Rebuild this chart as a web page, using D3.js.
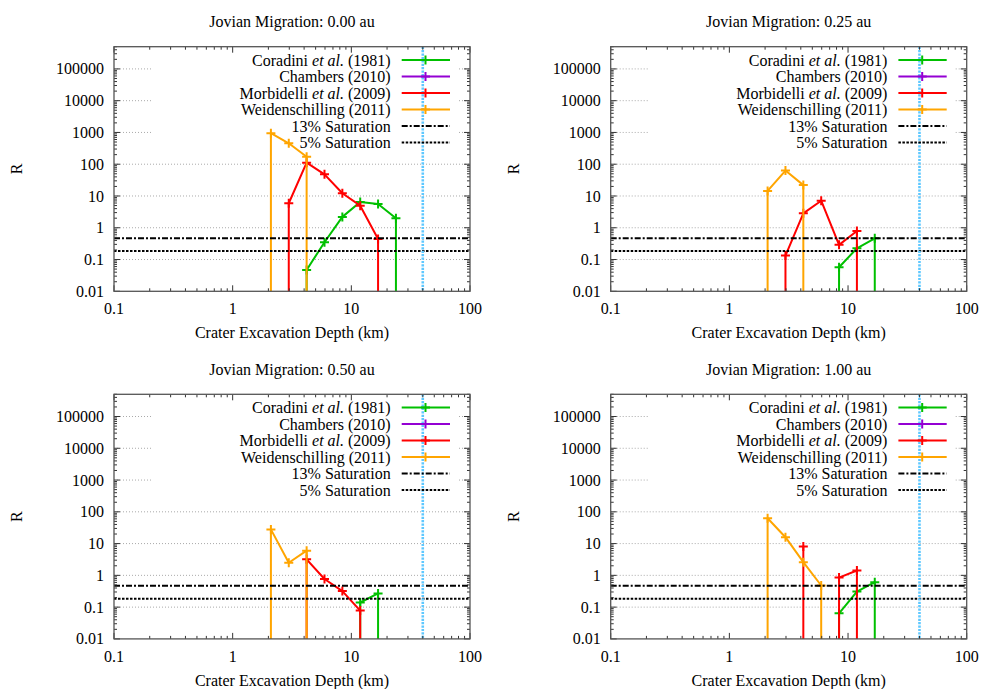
<!DOCTYPE html>
<html><head><meta charset="utf-8">
<script src="https://cdn.jsdelivr.net/npm/d3@7"></script>
<style>body{margin:0;background:#fff}</style>
</head><body>
<script>
// ---- data ----
const depthBins = [2.1, 2.97, 4.2, 5.94, 8.4, 11.88, 16.8, 23.76];
const migrations = ["0.00", "0.25", "0.50", "1.00"];
const seriesNames = ["Coradini", "Chambers", "Morbidelli", "Weidenschilling"];
const coradini = [
  [0, 0, 0.047, 0.35, 2.2, 6.5, 5.6, 2.0],
  [0, 0, 0, 0, 0.057, 0.226, 0.466, 0],
  [0, 0, 0, 0, 0, 0.14, 0.27, 0],
  [0, 0, 0, 0, 0.064, 0.31, 0.61, 0]
];
const chambers = [
  [0, 0, 0, 0, 0, 0, 0, 0],
  [0, 0, 0, 0, 0, 0, 0, 0],
  [0, 0, 0, 0, 0, 0, 0, 0],
  [0, 0, 0, 0, 0, 0, 0, 0]
];
const morbidelli = [
  [0, 5.9, 112, 48, 12.2, 4.95, 0.44, 0],
  [0, 0.133, 2.85, 7.1, 0.29, 0.79, 0, 0],
  [0, 0, 3.2, 0.77, 0.32, 0.078, 0, 0],
  [0, 0, 8.1, 0, 0.85, 1.42, 0, 0]
];
const weidenschilling = [
  [950, 455, 172, 0, 0, 0, 0, 0],
  [14.4, 63, 22, 0, 0, 0, 0, 0],
  [28, 2.5, 6.0, 0, 0, 0, 0, 0],
  [63, 15.9, 2.6, 0.48, 0, 0, 0, 0]
];
const saturation13 = 0.47;
const saturation5 = 0.185;
const limitDepth = 40;
const xTicks = [0.1, 1, 10, 100];
const yTicks = [0.01, 0.1, 1, 10, 100, 1000, 10000, 100000];
const xDomain = [0.1, 100];
const yDomain = [0.01, 500000];

// ---- styles ----
const FONT = "'Liberation Serif', 'DejaVu Serif', 'Times New Roman', serif";
const colors = {Coradini: "#00c000", Chambers: "#9400d3", Morbidelli: "#ff0000", Weidenschilling: "#ffa500"};
const seriesData = {Coradini: coradini, Chambers: chambers, Morbidelli: morbidelli, Weidenschilling: weidenschilling};
const legendLabels = [
  [["Coradini ", false], ["et al.", true], [" (1981)", false]],
  [["Chambers (2010)", false]],
  [["Morbidelli ", false], ["et al.", true], [" (2009)", false]],
  [["Weidenschilling (2011)", false]],
  [["13% Saturation", false]],
  [["5% Saturation", false]]
];

const W = 983, H = 689;
const svg = d3.select("body").append("svg").attr("width", W).attr("height", H)
  .attr("font-family", FONT).attr("font-size", 16);
const pw = 356, ph = 244.6;
const origins = [[114, 46.7], [610.7, 46.7], [114, 394.3], [610.7, 394.3]];

function txt(sel) { return sel.append("text").attr("font-family", FONT).attr("font-size", 16).attr("fill", "#000"); }

migrations.forEach((mig, pi) => {
  const [ox, oy] = origins[pi];
  const g = svg.append("g").attr("transform", `translate(${ox},${oy})`);
  const x = d3.scaleLog().domain(xDomain).range([0, pw]);
  const y = d3.scaleLog().domain(yDomain).range([ph, 0]).clamp(true);

  // grid
  g.selectAll(".grid").data(yTicks.slice(1)).enter().append("line")
    .attr("x1", 0).attr("x2", pw).attr("y1", d => y(d)).attr("y2", d => y(d))
    .attr("stroke", "#aaa").attr("stroke-width", 1).attr("stroke-dasharray", "1,2");

  // legend background
  g.append("rect").attr("x", 38).attr("y", 1).attr("width", 306).attr("height", 103).attr("fill", "#fff");

  // series
  const line = d3.line().x(d => x(d[0])).y(d => y(d[1]));
  seriesNames.forEach(name => {
    const vals = seriesData[name][pi];
    let runs = [], cur = null;
    vals.forEach((v, i) => {
      if (v > 0) { if (!cur) { cur = []; runs.push(cur); } cur.push([depthBins[i], v]); }
      else cur = null;
    });
    runs.forEach(run => {
      const pts = [[run[0][0], yDomain[0]], ...run, [run[run.length - 1][0], yDomain[0]]];
      g.append("path").attr("d", line(pts)).attr("fill", "none")
        .attr("stroke", colors[name]).attr("stroke-width", 2).attr("stroke-linejoin", "round");
      run.forEach(p => {
        const px = x(p[0]), py = y(p[1]);
        g.append("path").attr("d", `M${px - 4.5},${py}H${px + 4.5}M${px},${py - 4.5}V${py + 4.5}`)
          .attr("stroke", colors[name]).attr("stroke-width", 2);
      });
    });
  });

  // saturation lines
  g.append("line").attr("x1", 0).attr("x2", pw).attr("y1", y(saturation13)).attr("y2", y(saturation13))
    .attr("stroke", "#000").attr("stroke-width", 2).attr("stroke-dasharray", "6,2,2,2");
  g.append("line").attr("x1", 0).attr("x2", pw).attr("y1", y(saturation5)).attr("y2", y(saturation5))
    .attr("stroke", "#000").attr("stroke-width", 2).attr("stroke-dasharray", "2.5,1.5");

  // limit depth
  g.append("line").attr("x1", x(limitDepth)).attr("x2", x(limitDepth)).attr("y1", 0).attr("y2", ph)
    .attr("stroke", "#5ec8ff").attr("stroke-width", 2.6).attr("stroke-dasharray", "2.2,1.2");

  // legend
  legendLabels.forEach((parts, i) => {
    const ly = 13.3 + i * 16.5;
    const t = txt(g).attr("x", 276.7).attr("y", ly).attr("text-anchor", "end").attr("dy", "0.35em");
    parts.forEach(([s, it]) => t.append("tspan").text(s).attr("font-style", it ? "italic" : "normal"));
    const sx0 = 287.7, sx1 = 336, sc = 311.5;
    if (i < 4) {
      const c = colors[seriesNames[i]];
      g.append("line").attr("x1", sx0).attr("x2", sx1).attr("y1", ly).attr("y2", ly).attr("stroke", c).attr("stroke-width", 2);
      g.append("path").attr("d", `M${sc - 4.5},${ly}H${sc + 4.5}M${sc},${ly - 4.5}V${ly + 4.5}`).attr("stroke", c).attr("stroke-width", 2);
    } else {
      g.append("line").attr("x1", sx0).attr("x2", sx1).attr("y1", ly).attr("y2", ly).attr("stroke", "#000")
        .attr("stroke-width", 2).attr("stroke-dasharray", i === 4 ? "6,2,2,2" : "2.5,1.5");
    }
  });

  // ticks
  const xMinor = [], yMinor = [];
  for (let e = -1; e < 2; e++) for (let k = 2; k <= 9; k++) xMinor.push(k * Math.pow(10, e));
  for (let e = -2; e < 6; e++) for (let k = 2; k <= 9; k++) { const v = k * Math.pow(10, e); if (v <= yDomain[1]) yMinor.push(v); }
  const tk = g.append("g").attr("stroke", "#333").attr("stroke-width", 1);
  xTicks.forEach(v => { const px = x(v); tk.append("path").attr("d", `M${px},${ph}v-6M${px},0v6`); });
  xMinor.forEach(v => { const px = x(v); tk.append("path").attr("d", `M${px},${ph}v-3M${px},0v3`); });
  yTicks.forEach(v => { const py = y(v); tk.append("path").attr("d", `M0,${py}h6M${pw},${py}h-6`); });
  yMinor.forEach(v => { const py = y(v); tk.append("path").attr("d", `M0,${py}h3M${pw},${py}h-3`); });

  // frame
  g.append("rect").attr("x", 0).attr("y", 0).attr("width", pw).attr("height", ph)
    .attr("fill", "none").attr("stroke", "#555").attr("stroke-width", 1.3);

  // tick labels
  xTicks.forEach(d => txt(g).attr("x", x(d)).attr("y", ph + 22.7).attr("text-anchor", "middle").text(String(d)));
  yTicks.forEach(d => txt(g).attr("x", -10).attr("y", y(d)).attr("dy", "0.35em").attr("text-anchor", "end").text(String(d)));

  // labels
  txt(g).attr("x", pw / 2).attr("y", ph + 47).attr("text-anchor", "middle").text("Crater Excavation Depth (km)");
  txt(g).attr("x", pw / 2).attr("y", -19.4).attr("text-anchor", "middle").text(`Jovian Migration: ${mig} au`);
  txt(g).attr("transform", `translate(-97.3,${ph / 2}) rotate(-90)`).attr("dy", "0.35em")
    .attr("text-anchor", "middle").text("R");
});
</script>
</body></html>
